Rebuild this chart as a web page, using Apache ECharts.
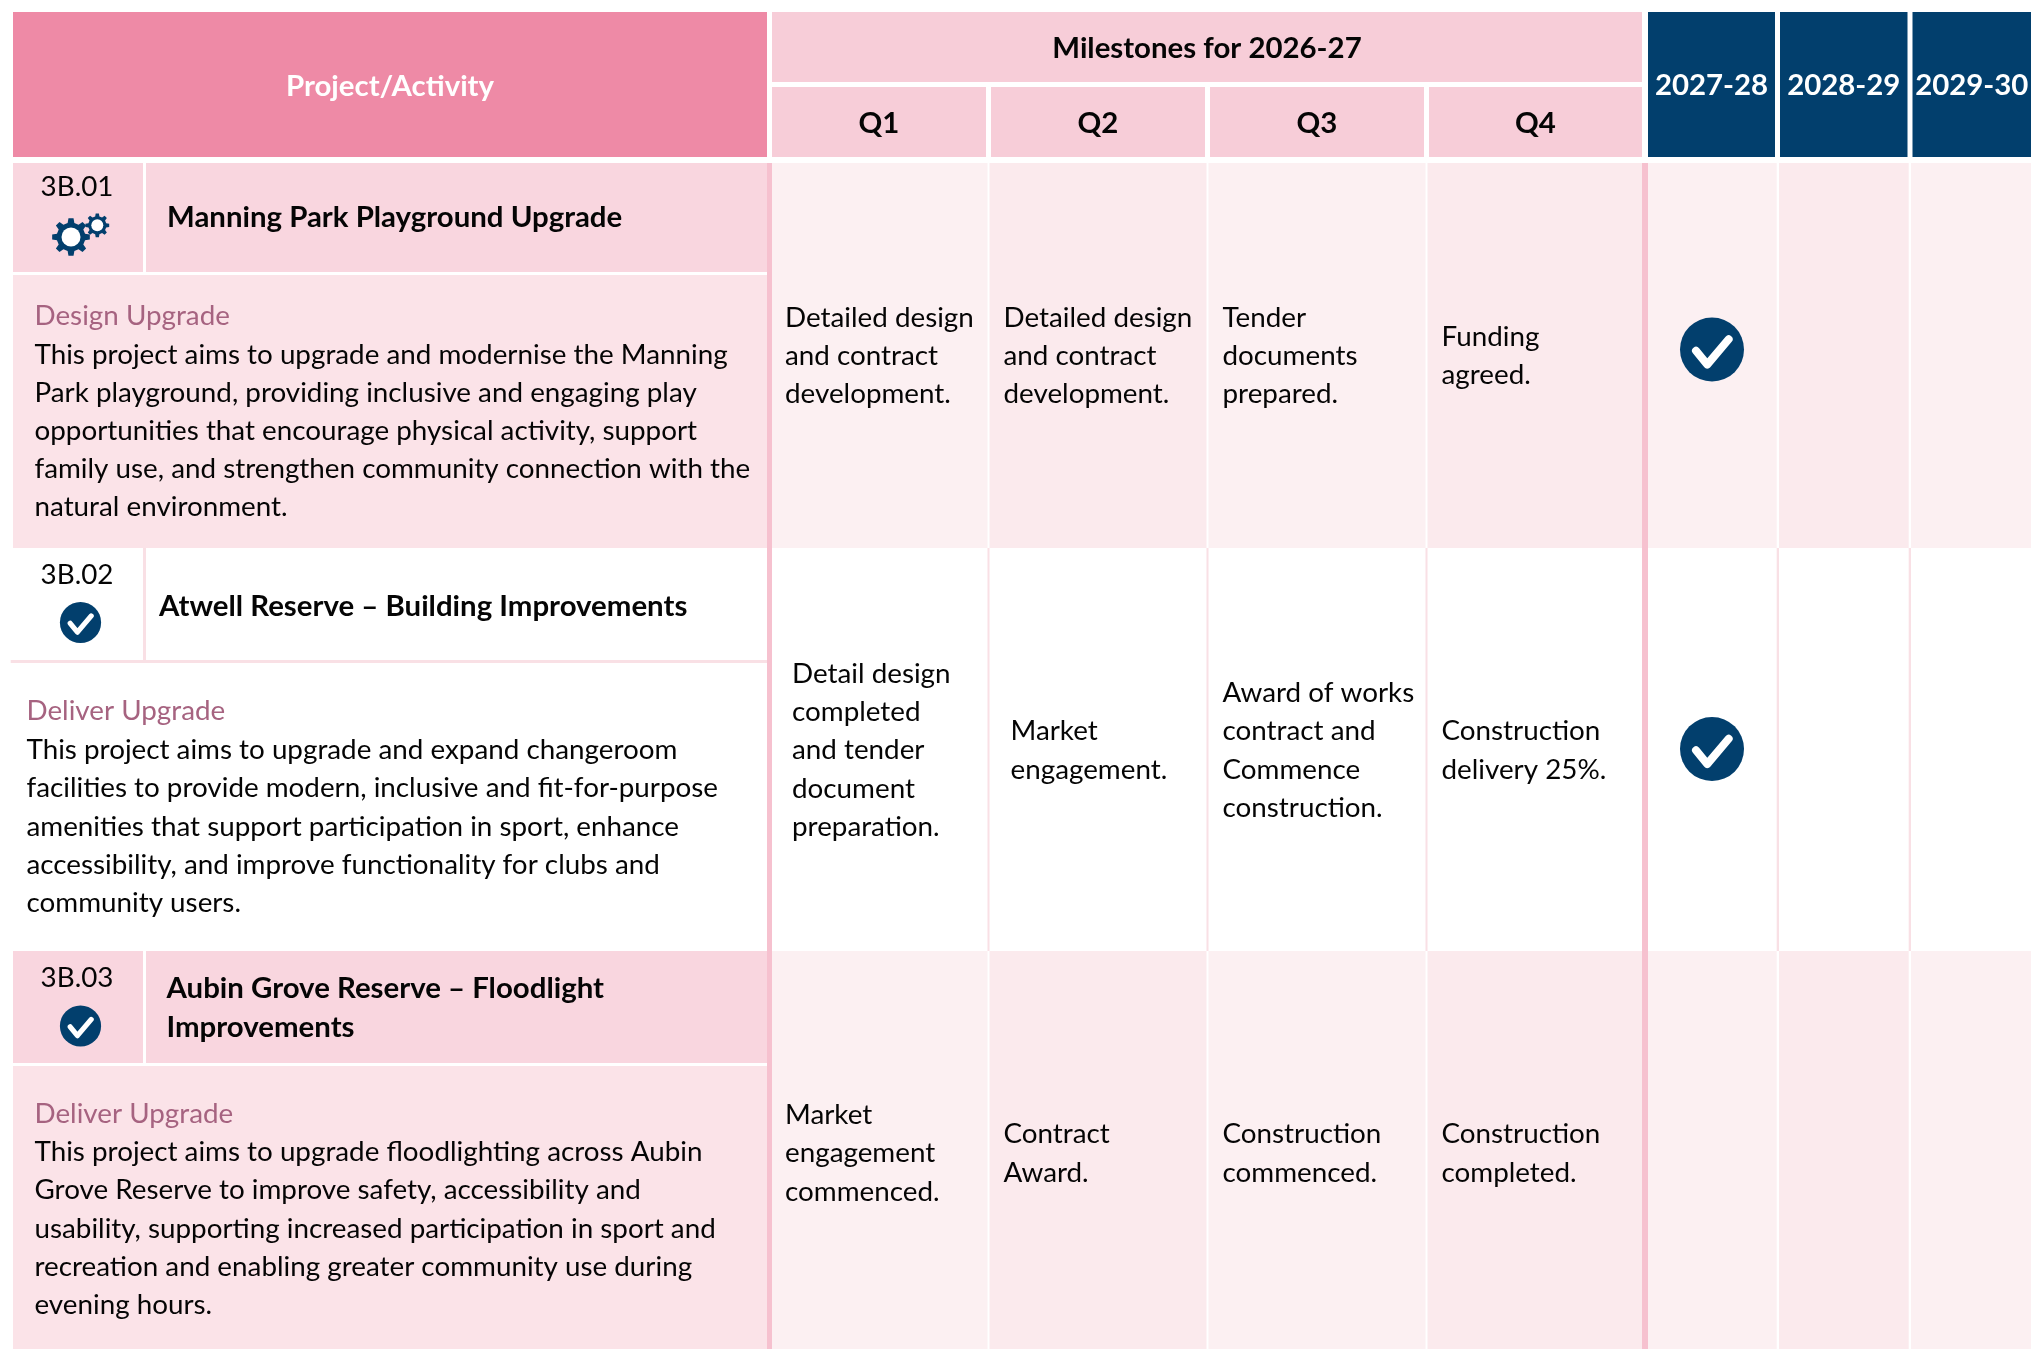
<!DOCTYPE html><html><head><meta charset="utf-8"><style>html,body{margin:0;background:#fff}</style></head><body><div id="c" style="width:2031px;height:1349px"></div>
<script src="https://cdn.jsdelivr.net/npm/echarts@6/dist/echarts.min.js"></script>
<script>
// ---- content ----
const headerProject = 'Project/Activity';
const headerMilestones = 'Milestones for 2026-27';
const quarters = ['Q1', 'Q2', 'Q3', 'Q4'];
const futureYears = ['2027-28', '2028-29', '2029-30'];
const projectIds = ['3B.01', '3B.02', '3B.03'];
const projectNames = [
  ['Manning Park Playground Upgrade'],
  ['Atwell Reserve – Building Improvements'],
  ['Aubin Grove Reserve – Floodlight', 'Improvements']
];
const projectStages = ['Design Upgrade', 'Deliver Upgrade', 'Deliver Upgrade'];
const projectDescriptions = [
  ['This project aims to upgrade and modernise the Manning', 'Park playground, providing inclusive and engaging play', 'opportunities that encourage physical activity, support', 'family use, and strengthen community connection with the', 'natural environment.'],
  ['This project aims to upgrade and expand changeroom', 'facilities to provide modern, inclusive and fit-for-purpose', 'amenities that support participation in sport, enhance', 'accessibility, and improve functionality for clubs and', 'community users.'],
  ['This project aims to upgrade floodlighting across Aubin', 'Grove Reserve to improve safety, accessibility and', 'usability, supporting increased participation in sport and', 'recreation and enabling greater community use during', 'evening hours.']
];
const statusIcons = ['gears', 'check', 'check'];
const milestonesRow1 = [
  ['Detailed design', 'and contract', 'development.'],
  ['Detailed design', 'and contract', 'development.'],
  ['Tender', 'documents', 'prepared.'],
  ['Funding', 'agreed.']
];
const milestonesRow2 = [
  ['Detail design', 'completed', 'and tender', 'document', 'preparation.'],
  ['Market', 'engagement.'],
  ['Award of works', 'contract and', 'Commence', 'construction.'],
  ['Construction', 'delivery 25%.']
];
const milestonesRow3 = [
  ['Market', 'engagement', 'commenced.'],
  ['Contract', 'Award.'],
  ['Construction', 'commenced.'],
  ['Construction', 'completed.']
];
const milestones = [milestonesRow1, milestonesRow2, milestonesRow3];
const futureChecks = [[1, 0, 0], [1, 0, 0], [0, 0, 0]];

// ---- table geometry (axis units = page pixels) ----
const W = 2031, H = 1349;
const leftCol = [13, 767], idCol = [13, 143], nameCol = [146, 767];
const barL = [767, 772], barR = [1642, 1648];
const qCols = [[772, 987.5], [989.5, 1206.5], [1208.5, 1425.5], [1427.5, 1642]];
const yearCols = [[1648, 1776.7], [1779, 1908.7], [1911, 2031]];
const yearHead = [[1648, 1775], [1780, 1907.5], [1912.5, 2031]];
const qHead = [[772, 986], [991, 1205], [1210, 1424], [1429, 1642]];
const headY = [12, 157], msHeadY = [12, 82], qHeadY = [87, 157];
const rowY = [[163, 548], [548, 951], [951, 1356]];
const nameBottom = [272, 660, 1063];
const descTop = [275, 663, 1066];
const textX = [34.5, 26.5, 34.5];
const nameX = [167, 159, 166.5];
const stageY = [316.5, 711, 1114];
const idY = [187.5, 575.5, 978.5];
const nameY = [218, 606.5, 989];
const iconY = [null, 622.5, 1026];
const qIndent = [[13, 14, 14, 14], [20, 21, 14, 14], [13, 14, 14, 14]];
const qDy = [0.3, 1, 0];
const descDy = [0, 1, 0];
const LH = 38.2;
const checkY = [349.5, 749];

// ---- palette ----
const C = { head: '#EE8AA6', ms: '#F7CDD8', navy: '#023F6D', name: '#F9D6DF', desc: '#FBE3E8',
  bar: '#F6C1CF', light: '#FCF0F2', dark: '#FBEAED', line: '#F9E0E5', stage: '#A66380', text: '#050505' };
const FONT = 'Lato, "Liberation Sans", sans-serif';

// ---- marks assembled from the above ----
const rects = [], rectColors = [];
const addRect = (x, y, c) => { rects.push([x[0], y[0], x[1], y[1]]); rectColors.push(c); };
addRect(leftCol, headY, C.head);
addRect([barL[1], barR[0]], msHeadY, C.ms);
qHead.forEach(x => addRect(x, qHeadY, C.ms));
yearHead.forEach(x => addRect(x, headY, C.navy));
rowY.forEach((y, r) => {
  const tinted = r !== 1;
  if (tinted) {
    addRect(idCol, [y[0], nameBottom[r]], C.name);
    addRect(nameCol, [y[0], nameBottom[r]], C.name);
    addRect(leftCol, [descTop[r], y[1]], C.desc);
    qCols.concat(yearCols).forEach((x, i) => addRect(x, y, i % 2 ? C.dark : C.light));
  } else {
    addRect([143, 146], [y[0], nameBottom[r]], C.line);
    addRect([10.7, 767], [nameBottom[r], descTop[r]], C.line);
    [[987.5, 989.5], [1206.5, 1208.5], [1425.5, 1427.5], [1776.7, 1779], [1908.7, 1911]].forEach(x => addRect(x, y, C.line));
  }
  addRect(barL, y, C.bar);
  addRect(barR, y, C.bar);
});

const texts = [];
const addText = (x, y, s, font, fill, align) => texts.push({ pos: [x, y], s, font, fill, align });
const body = '27.8px ' + FONT, bold = 'bold 29.4px ' + FONT;
const mid = a => (a[0] + a[1]) / 2;
addText(mid(leftCol), 87, headerProject, bold, '#fff', 'center');
addText(1207, 49, headerMilestones, bold, C.text, 'center');
quarters.forEach((q, i) => addText(mid(qHead[i]), 123.5, q, bold, C.text, 'center'));
futureYears.forEach((t, i) => addText(mid(yearHead[i]), 86, t, bold, '#fff', 'center'));
projectIds.forEach((id, r) => {
  addText(77, idY[r], id, body, C.text, 'center');
  projectNames[r].forEach((s, k) => addText(nameX[r], nameY[r] + k * LH, s, bold, C.text, 'left'));
  addText(textX[r], stageY[r], projectStages[r], body, C.stage, 'left');
  projectDescriptions[r].forEach((s, k) => addText(textX[r], stageY[r] + descDy[r] + (k + 1) * LH, s, body, C.text, 'left'));
  const cy = mid(rowY[r]) + qDy[r];
  milestones[r].forEach((lines, q) => lines.forEach((s, k) =>
    addText(qCols[q][0] + qIndent[r][q], cy + (k - (lines.length - 1) / 2) * LH, s, body, C.text, 'left')));
});

const checks = [];
statusIcons.forEach((k, r) => { if (k === 'check') checks.push([80.5, iconY[r], 20.6]); });
futureChecks.forEach((row, r) => row.forEach((v, i) => { if (v) checks.push([mid(yearHead[i]) + 0.5, checkY[r], 32]); }));

const gears = [[71, 237, 19, 9.5], [97.3, 225.3, 12, 6]];

function gearPoints(cx, cy, R) {
  const pts = [], n = 8, r = R * 0.76;
  for (let i = 0; i < n; i++) {
    const a = i * 2 * Math.PI / n - Math.PI / 2, st = 2 * Math.PI / n;
    [[-0.30, r], [-0.17, R], [0.17, R], [0.30, r]].forEach(([f, rad]) => {
      const t = a + f * st;
      pts.push([cx + rad * Math.cos(t), cy + rad * Math.sin(t)]);
    });
  }
  return pts;
}

const base = { type: 'custom', coordinateSystem: 'cartesian2d', silent: true, animation: false, clip: true };
const option = {
  animation: false,
  backgroundColor: '#fff',
  tooltip: { show: false },
  grid: { left: 0, right: 0, top: 0, bottom: 0 },
  xAxis: { type: 'value', min: 0, max: W, show: false },
  yAxis: { type: 'value', min: 0, max: H, inverse: true, show: false },
  series: [
    Object.assign({}, base, { name: 'cells', z: 1, data: rects, encode: { x: [0, 2], y: [1, 3] },
      renderItem: (p, api) => {
        const a = api.coord([api.value(0), api.value(1)]), b = api.coord([api.value(2), api.value(3)]);
        return { type: 'rect', shape: { x: a[0], y: a[1], width: b[0] - a[0], height: b[1] - a[1] }, style: { fill: rectColors[p.dataIndex] } };
      } }),
    Object.assign({}, base, { name: 'check marks', z: 3, data: checks, encode: { x: 0, y: 1 },
      renderItem: (p, api) => {
        const c = api.coord([api.value(0), api.value(1)]), r = api.value(2);
        return { type: 'group', children: [
          { type: 'circle', shape: { cx: c[0], cy: c[1], r }, style: { fill: C.navy } },
          { type: 'polyline', shape: { points: [[c[0] - 0.5 * r, c[1] + 0.04 * r], [c[0] - 0.15 * r, c[1] + 0.47 * r], [c[0] + 0.52 * r, c[1] - 0.32 * r]] },
            style: { stroke: '#fff', fill: 'none', lineWidth: 0.25 * r, lineCap: 'round', lineJoin: 'round' } }
        ] };
      } }),
    Object.assign({}, base, { name: 'gears', z: 3, data: gears, encode: { x: 0, y: 1 },
      renderItem: (p, api) => {
        const c = api.coord([api.value(0), api.value(1)]);
        return { type: 'group', children: [
          { type: 'polygon', shape: { points: gearPoints(c[0], c[1], api.value(2)) }, style: { fill: C.navy } },
          { type: 'circle', shape: { cx: c[0], cy: c[1], r: api.value(3) }, style: { fill: '#fff' } }
        ] };
      } }),
    Object.assign({}, base, { name: 'text', z: 4, data: texts.map(t => t.pos), encode: { x: 0, y: 1 },
      renderItem: (p, api) => {
        const t = texts[p.dataIndex], c = api.coord([api.value(0), api.value(1)]);
        return { type: 'text', x: c[0], y: c[1], style: { text: t.s, font: t.font, fill: t.fill, align: t.align, verticalAlign: 'middle' } };
      } })
  ]
};
echarts.init(document.getElementById('c'), null, { renderer: 'canvas' }).setOption(option);
</script></body></html>
